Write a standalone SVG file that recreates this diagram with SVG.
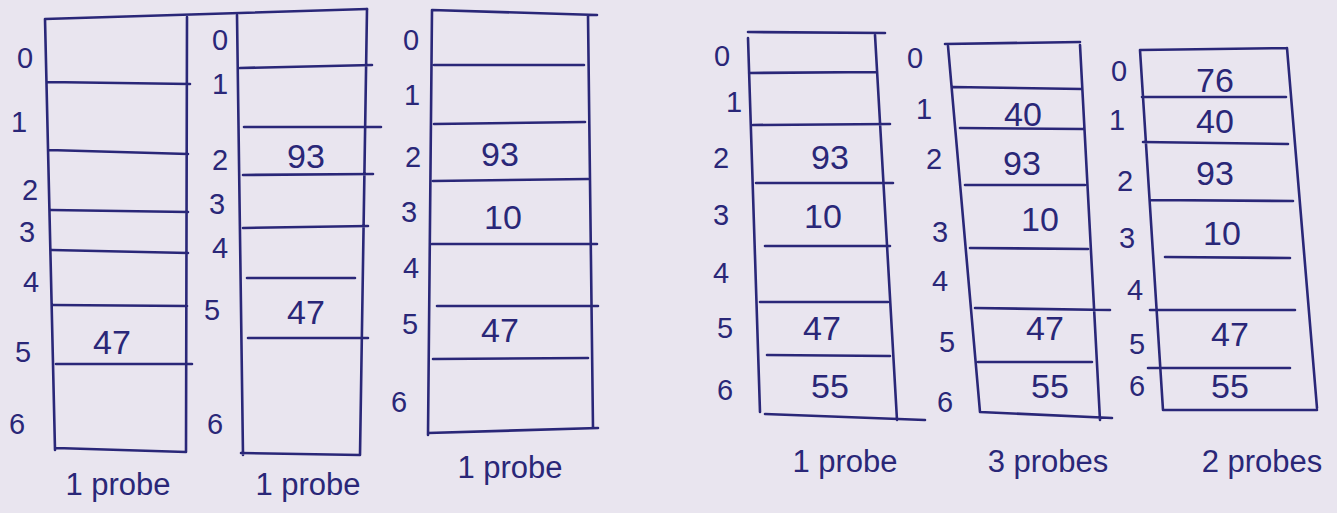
<svg xmlns="http://www.w3.org/2000/svg" width="1337" height="513" viewBox="0 0 1337 513">
<style>
.bg{fill:#e9e5ef}
.ln{stroke:#2a2778;stroke-width:2.6;fill:none;stroke-linecap:round}
.ix{font-family:"Liberation Sans",Arial,sans-serif;font-size:29px;fill:#2a2778}
.v{font-family:"Liberation Sans",Arial,sans-serif;font-size:34px;fill:#2a2778;text-anchor:middle}
.lb{font-family:"Liberation Sans",Arial,sans-serif;font-size:31px;fill:#2a2778;text-anchor:middle}
</style>
<rect class="bg" x="0" y="0" width="1337" height="513"/>
<g id="table1">
<path class="ln" d="M45,19 L367,9 M45,19 L55,450 M187,17 L186,452 M47,82 L190,84 M49,150 L188,154 M51,210 L188,212 M52,250 L188,253 M53,305 L187,306 M56,364 L192,364 M56,448 L186,452"/>
<text class="ix" x="17" y="68">0</text><text class="ix" x="11" y="132">1</text><text class="ix" x="22" y="200">2</text><text class="ix" x="19" y="242">3</text><text class="ix" x="23" y="292">4</text><text class="ix" x="15" y="362">5</text><text class="ix" x="9" y="434">6</text>
<text class="v" x="112" y="354">47</text>
<text class="lb" x="118" y="495">1 probe</text>
</g>
<g id="table2">
<path class="ln" d="M237,15 L243,455 M367,9 L360,455 M240,68 L372,65 M244,127 L381,127 M243,175 L373,174 M243,228 L368,226 M247,278 L355,278 M248,338 L368,338 M241,453 L360,455"/>
<text class="ix" x="212" y="50">0</text><text class="ix" x="212" y="94">1</text><text class="ix" x="212" y="170">2</text><text class="ix" x="209" y="214">3</text><text class="ix" x="212" y="258">4</text><text class="ix" x="204" y="320">5</text><text class="ix" x="207" y="434">6</text>
<text class="v" x="306" y="168">93</text>
<text class="v" x="306" y="324">47</text>
<text class="lb" x="308" y="495">1 probe</text>
</g>
<g id="table3">
<path class="ln" d="M432,10 L597,15 M432,10 L428,435 M588,15 L593,428 M434,65 L584,65 M434,124 L585,122 M433,181 L588,179 M432,244 L597,244 M437,306 L598,306 M433,359 L588,358 M428,433 L598,428"/>
<text class="ix" x="403" y="50">0</text><text class="ix" x="404" y="105">1</text><text class="ix" x="405" y="167">2</text><text class="ix" x="401" y="222">3</text><text class="ix" x="403" y="278">4</text><text class="ix" x="402" y="334">5</text><text class="ix" x="391" y="412">6</text>
<text class="v" x="500" y="166">93</text>
<text class="v" x="503" y="229">10</text>
<text class="v" x="500" y="342">47</text>
<text class="lb" x="510" y="478">1 probe</text>
</g>
<g id="table4">
<path class="ln" d="M748,32 L885,33 M748,38 L760,412 M875,35 L897,420 M749,73 L877,72 M753,125 L890,124 M756,183 L893,183 M765,246 L890,246 M760,302 L888,302 M767,355 L890,356 M765,414 L925,420"/>
<text class="ix" x="714" y="66">0</text><text class="ix" x="726" y="112">1</text><text class="ix" x="713" y="168">2</text><text class="ix" x="713" y="225">3</text><text class="ix" x="713" y="283">4</text><text class="ix" x="717" y="338">5</text><text class="ix" x="717" y="400">6</text>
<text class="v" x="830" y="169">93</text>
<text class="v" x="823" y="228">10</text>
<text class="v" x="822" y="340">47</text>
<text class="v" x="830" y="398">55</text>
<text class="lb" x="845" y="472">1 probe</text>
</g>
<g id="table5">
<path class="ln" d="M945,44 L1080,42 M948,46 L980,412 M1080,45 L1100,420 M953,87 L1082,89 M960,128 L1083,129 M965,185 L1085,185 M970,248 L1088,249 M975,308 L1110,310 M978,362 L1092,362 M980,412 L1112,418"/>
<text class="ix" x="907" y="68">0</text><text class="ix" x="916" y="119">1</text><text class="ix" x="926" y="169">2</text><text class="ix" x="932" y="242">3</text><text class="ix" x="932" y="291">4</text><text class="ix" x="939" y="352">5</text><text class="ix" x="937" y="412">6</text>
<text class="v" x="1023" y="126">40</text>
<text class="v" x="1022" y="175">93</text>
<text class="v" x="1040" y="231">10</text>
<text class="v" x="1045" y="340">47</text>
<text class="v" x="1050" y="398">55</text>
<text class="lb" x="1048" y="472">3 probes</text>
</g>
<g id="table6">
<path class="ln" d="M1140,50 L1287,48 M1140,50 L1163,410 M1287,48 L1317,408 M1142,97 L1286,97 M1143,142 L1288,144 M1150,200 L1293,201 M1165,257 L1290,258 M1150,310 L1295,310 M1148,368 L1290,368 M1163,410 L1317,410"/>
<text class="ix" x="1111" y="81">0</text><text class="ix" x="1109" y="130">1</text><text class="ix" x="1117" y="191">2</text><text class="ix" x="1119" y="248">3</text><text class="ix" x="1127" y="300">4</text><text class="ix" x="1129" y="354">5</text><text class="ix" x="1129" y="396">6</text>
<text class="v" x="1215" y="92">76</text>
<text class="v" x="1215" y="133">40</text>
<text class="v" x="1215" y="185">93</text>
<text class="v" x="1222" y="245">10</text>
<text class="v" x="1230" y="346">47</text>
<text class="v" x="1230" y="398">55</text>
<text class="lb" x="1262" y="472">2 probes</text>
</g>
<g id="connectors"></g>
</svg>
